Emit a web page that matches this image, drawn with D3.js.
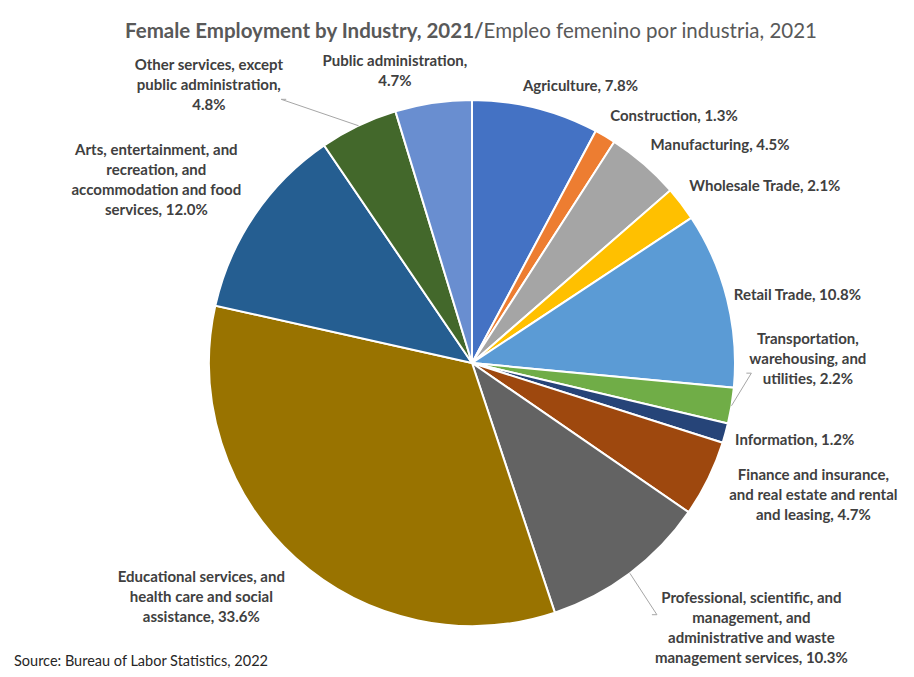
<!DOCTYPE html>
<html>
<head>
<meta charset="utf-8">
<script src="https://cdn.jsdelivr.net/npm/d3@7"></script>
<style>
  body { margin: 0; background: #fff; }
  text { font-family: Lato, "Open Sans", sans-serif; }
</style>
</head>
<body>
<div id="chart"></div>
<script>
// data
const categories = [
  "Agriculture", "Construction", "Manufacturing", "Wholesale Trade", "Retail Trade",
  "Transportation,\nwarehousing, and\nutilities", "Information",
  "Finance and insurance,\nand real estate and rental\nand leasing",
  "Professional, scientific, and\nmanagement, and\nadministrative and waste\nmanagement services",
  "Educational services, and\nhealth care and social\nassistance",
  "Arts, entertainment, and\nrecreation, and\naccommodation and food\nservices",
  "Other services, except\npublic administration,", "Public administration,"
];
const shares = [7.8, 1.3, 4.5, 2.1, 10.8, 2.2, 1.2, 4.7, 10.3, 33.6, 12.0, 4.8, 4.7];
const colors = ["#4472C4", "#ED7D31", "#A5A5A5", "#FFC000", "#5B9BD5", "#70AD47", "#264478",
                "#9E480E", "#636363", "#997300", "#255E91", "#43682B", "#698ED0"];

// labels Excel pulled away from the slice (dx, dy, leader line?)
const labelMoves = {
  4: [-3, 8, false], 5: [8, -60, true], 7: [12, -14, false], 8: [19, 10, true],
  9: [-4, 5, false], 10: [-5, 12, false], 11: [-71, 0, true], 12: [-5, 0, false]
};

const W = 914, H = 677;
const cx = 472, cy = 363, radius = 263;
const lineH = 20, fontSize = 15;

const svg = d3.select("#chart").append("svg")
    .attr("width", W).attr("height", H);

// title
const title = svg.append("text")
    .attr("x", W / 2 + 14).attr("y", 38)
    .attr("text-anchor", "middle")
    .attr("fill", "#595959")
    .style("font-size", "20.5px");
title.append("tspan").attr("font-weight", "bold").text("Female Employment by Industry, 2021/");
title.append("tspan").text("Empleo femenino por industria, 2021");

const pie = d3.pie().sort(null).value(d => d);
const arc = d3.arc().innerRadius(0).outerRadius(radius);
const arcs = pie(shares);

const g = svg.append("g").attr("transform", `translate(${cx},${cy})`);

g.selectAll("path.slice")
  .data(arcs)
  .enter()
  .append("path")
  .attr("class", "slice")
  .attr("d", arc)
  .attr("fill", (d, i) => colors[i])
  .attr("stroke", "#fff")
  .attr("stroke-width", 2);

// labels
const clamp = v => Math.max(-1, Math.min(1, v));

arcs.forEach((d, i) => {
  const lines = (categories[i] + (categories[i].endsWith(",") ? "\n" : ", ") + d3.format(".1f")(shares[i]) + "%").split("\n");
  const a = (d.startAngle + d.endAngle) / 2;
  const ux = Math.sin(a), uy = -Math.cos(a);

  const t = g.append("text")
      .attr("text-anchor", "middle")
      .attr("fill", "#404040")
      .attr("font-weight", "bold")
      .style("font-size", fontSize + "px");
  lines.forEach((l, k) => t.append("tspan").attr("x", 0).attr("dy", k ? lineH : 0).text(l));

  const w = t.node().getBBox().width;
  const h = lines.length * lineH - 2;
  const px = (radius + 10) * ux, py = (radius + 10) * uy;
  let bx = px + w / 2 * clamp(ux * 3);
  let by = py + h / 2 * clamp(uy * 3);
  const mv = labelMoves[i];
  if (mv) { bx += mv[0]; by += mv[1]; }

  t.attr("transform", `translate(${bx},${by - h / 2 + fontSize * 0.75})`);

  if (mv && mv[2]) {
    const ex = radius * ux, ey = radius * uy;
    const side = ux >= 0 ? -1 : 1;
    const tx = bx + side * (w / 2 + 3);
    const ty = Math.max(by - h / 2 + h * 0.3, Math.min(by + h / 2 - h * 0.3, ey));
    g.append("path")
      .attr("d", `M${ex},${ey}L${tx - side * 5},${ty}L${tx},${ty}`)
      .attr("fill", "none")
      .attr("stroke", "#a6a6a6")
      .attr("stroke-width", 1);
  }
});

// source
svg.append("text")
    .attr("x", 14).attr("y", 666)
    .attr("fill", "#262626")
    .style("font-size", "14.5px")
    .text("Source: Bureau of Labor Statistics, 2022");
</script>
</body>
</html>
